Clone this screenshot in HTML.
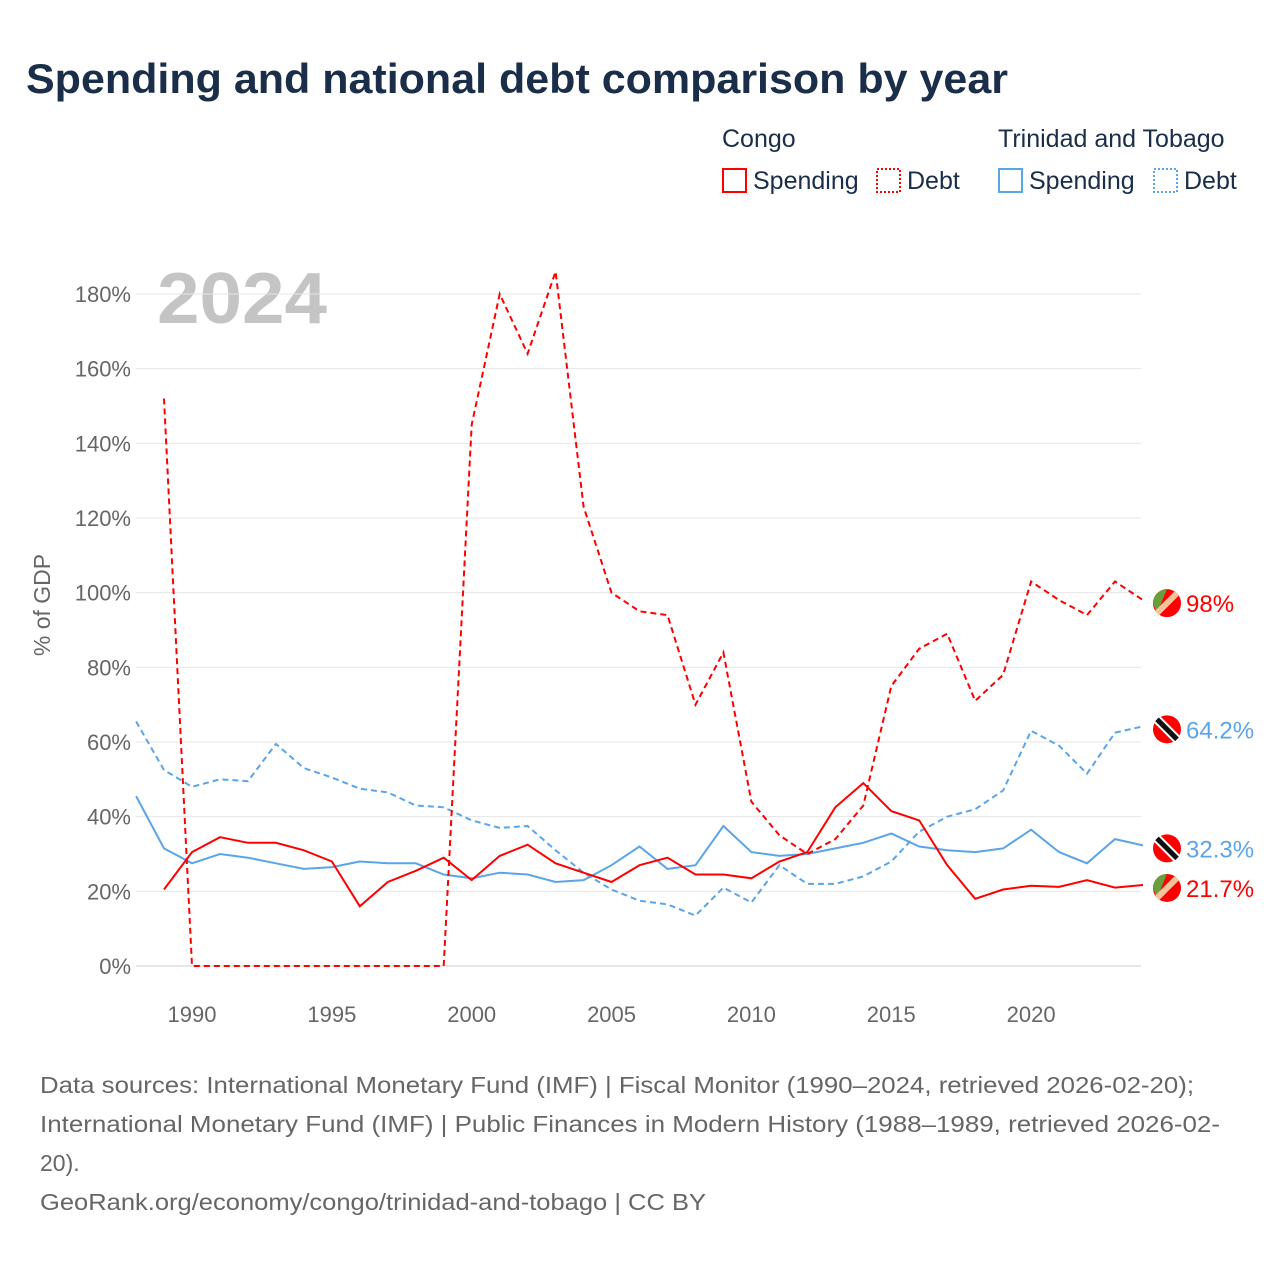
<!DOCTYPE html>
<html><head><meta charset="utf-8"><style>
body{margin:0;background:#fff;font-family:"Liberation Sans",sans-serif;}
svg text{font-family:"Liberation Sans",sans-serif;}
</style></head><body>
<svg id="chart" width="1280" height="1280" xmlns="http://www.w3.org/2000/svg">
<text x="26" y="93" font-size="42" font-weight="bold" fill="#1a2e4a" textLength="982" lengthAdjust="spacingAndGlyphs">Spending and national debt comparison by year</text>
<g font-size="25" fill="#1a2e4a">
<text x="722" y="147" fill="#1a2e4a">Congo</text>
<text x="998" y="147" fill="#1a2e4a">Trinidad and Tobago</text>
<g><rect x="723" y="169" width="23" height="23" fill="none" stroke="#f00" stroke-width="2"/><text x="753" y="189" fill="#1a2e4a">Spending</text></g>
<g><rect x="877" y="169" width="23" height="23" fill="none" stroke="#f00" stroke-width="2" stroke-dasharray="2,2"/><text x="907" y="189" fill="#1a2e4a">Debt</text></g>
<g><rect x="999" y="169" width="23" height="23" fill="none" stroke="#5aa5ea" stroke-width="2"/><text x="1029" y="189" fill="#1a2e4a">Spending</text></g>
<g><rect x="1154" y="169" width="23" height="23" fill="none" stroke="#5aa5ea" stroke-width="2" stroke-dasharray="2,2"/><text x="1184" y="189" fill="#1a2e4a">Debt</text></g>
</g>
<text x="157" y="323" font-size="72" font-weight="bold" fill="#c4c4c4" textLength="170" lengthAdjust="spacingAndGlyphs">2024</text>
<text transform="translate(50,605) rotate(-90)" text-anchor="middle" font-size="23" fill="#666">% of GDP</text>
<g id="grid"></g><g id="lines"></g><g id="ends"></g>
<g font-size="23" fill="#666">
<text x="40" y="1093" textLength="1154" lengthAdjust="spacingAndGlyphs">Data sources: International Monetary Fund (IMF) | Fiscal Monitor (1990–2024, retrieved 2026-02-20);</text>
<text x="40" y="1132" textLength="1180" lengthAdjust="spacingAndGlyphs">International Monetary Fund (IMF) | Public Finances in Modern History (1988–1989, retrieved 2026-02-</text>
<text x="40" y="1171">20).</text>
<text x="40" y="1210" textLength="666" lengthAdjust="spacingAndGlyphs">GeoRank.org/economy/congo/trinidad-and-tobago | CC BY</text>
</g>
</svg>
<script>
const yTicks=[0,20,40,60,80,100,120,140,160,180];
const xTicks=[1990,1995,2000,2005,2010,2015,2020];
const congoDebtYears=[1989,1990,1991,1992,1993,1994,1995,1996,1997,1998,1999,2000,2001,2002,2003,2004,2005,2006,2007,2008,2009,2010,2011,2012,2013,2014,2015,2016,2017,2018,2019,2020,2021,2022,2023,2024];
const congoDebt=[152,0,0,0,0,0,0,0,0,0,0,145,180,164,186,123,100,95,94,70,84,44,35,30,34,43,75,85,89,71,78,103,98,94,103,98];
const congoSpending=[20.5,30.5,34.5,33,33,31,28,16,22.5,25.5,29,23,29.5,32.5,27.5,25,22.5,27,29,24.5,24.5,23.5,28,30.5,42.5,49,41.5,39,27,18,20.5,21.5,21.2,23,21,21.7];
const ttYears=[1988,1989,1990,1991,1992,1993,1994,1995,1996,1997,1998,1999,2000,2001,2002,2003,2004,2005,2006,2007,2008,2009,2010,2011,2012,2013,2014,2015,2016,2017,2018,2019,2020,2021,2022,2023,2024];
const ttDebt=[65.5,52.5,48,50,49.5,59.5,53,50.5,47.5,46.5,43,42.5,39,37,37.5,31,25,20.5,17.5,16.5,13.5,21,17,27,22,22,24,28,36,40,42,47,63,59,51.5,62.5,64.2];
const ttSpending=[45.5,31.5,27.5,30,29,27.5,26,26.5,28,27.5,27.5,24.5,23.5,25,24.5,22.5,23,27,32,26,27,37.5,30.5,29.5,30,31.5,33,35.5,32,31,30.5,31.5,36.5,30.5,27.5,34,32.3];
const endLabels=["98%","64.2%","32.3%","21.7%"];
const NS="http://www.w3.org/2000/svg";
const xS=y=>192+(y-1990)*27.97;
const yS=v=>966-v*3.7333;
function mk(t,a,p){const e=document.createElementNS(NS,t);for(const k in a)e.setAttribute(k,a[k]);p.appendChild(e);return e;}
const grid=document.getElementById('grid');
yTicks.forEach(v=>{
 const l=mk('line',{x1:136,x2:1141,y1:yS(v),y2:yS(v),stroke:v===0?'#ccc':'#e6e6e6','stroke-width':1},grid);
 
 
 const t=mk('text',{x:131,y:yS(v)+8,'text-anchor':'end','font-size':22,fill:'#666'},grid);
 t.textContent=v+'%';
 
 
});
xTicks.forEach(y=>{
 const t=mk('text',{x:xS(y),y:1022,'text-anchor':'middle','font-size':22,fill:'#666'},grid);
 t.textContent=y;
 
 
});
const lines=document.getElementById('lines');
function line(xs,vs,col,dash,name){
 const d=xs.map((x,i)=>(i?'L':'M')+xS(x).toFixed(1)+','+yS(vs[i]).toFixed(1)).join('');
 const p=mk('path',{d:d,fill:'none',stroke:col,'stroke-width':2,'stroke-dasharray':dash?'6,4':'none'},lines);
 
 
}
line(ttYears,ttDebt,'#5aa5ea',true,'tt-debt-line');
line(ttYears,ttSpending,'#5aa5ea',false,'tt-spending-line');
line(congoDebtYears,congoDebt,'#f00',true,'congo-debt-line');
line(congoDebtYears,congoSpending,'#f00',false,'congo-spending-line');
const ends=document.getElementById('ends');
const endVals=[congoDebt[congoDebt.length-1],ttDebt[ttDebt.length-1],ttSpending[ttSpending.length-1],congoSpending[congoSpending.length-1]];
const endCols=['#f00','#5aa5ea','#5aa5ea','#f00'];
const flagTT=[false,true,true,false];
endVals.forEach((v,i)=>{
 const cy=yS(v)+3,cx=1167;
 const g=mk('g',{},ends);
 
 
 mk('circle',{cx:cx,cy:cy,r:14,fill:'#f00'},g);
 if(flagTT[i]){
  mk('line',{x1:cx-10,y1:cy-10,x2:cx+10,y2:cy+10,stroke:'#fff','stroke-width':9},g);
  mk('line',{x1:cx-10,y1:cy-10,x2:cx+10,y2:cy+10,stroke:'#111','stroke-width':5},g);
 }else{
  mk('path',{d:`M${cx-14},${cy} A14,14 0 0 1 ${cx},${cy-14} L${cx-10},${cy+10}Z`,fill:'#6a9e3a'},g);
  mk('line',{x1:cx+10,y1:cy-10,x2:cx-10,y2:cy+10,stroke:'#f2c49b','stroke-width':6},g);
 }
 const t=mk('text',{x:1186,y:cy+9,'font-size':24,fill:endCols[i]},ends);
 t.textContent=endLabels[i];
 
 
});
</script>
</body></html>
